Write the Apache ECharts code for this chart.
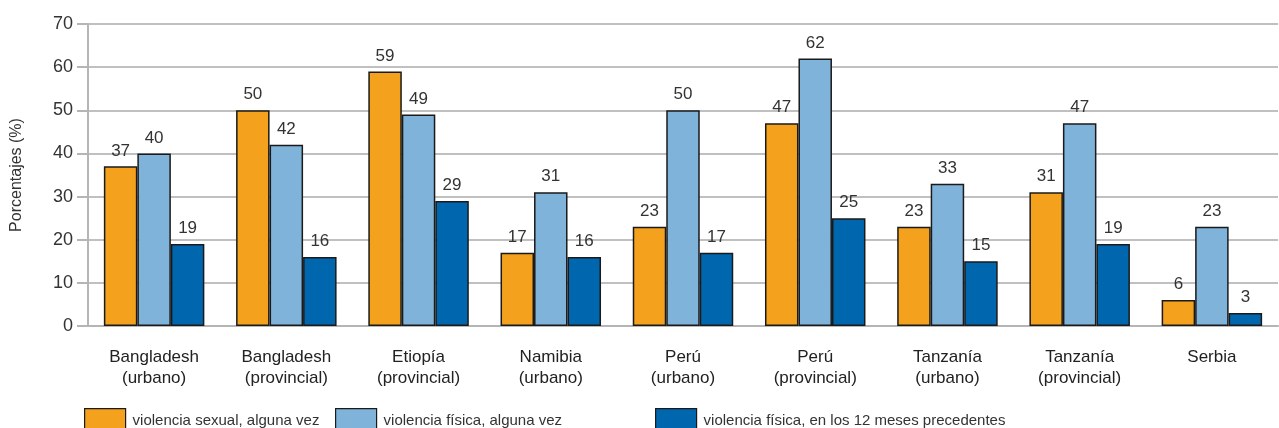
<!DOCTYPE html>
<html><head><meta charset="utf-8">
<script src="https://cdn.jsdelivr.net/npm/echarts@6/dist/echarts.min.js"></script>
<style>html,body{margin:0;padding:0;background:#fff}#c{width:1279px;height:428px}</style>
</head><body><div id="c"></div>
<script>
const categories = ["Bangladesh\n(urbano)","Bangladesh\n(provincial)","Etiopía\n(provincial)","Namibia\n(urbano)","Perú\n(urbano)","Perú\n(provincial)","Tanzanía\n(urbano)","Tanzanía\n(provincial)","Serbia"];
const seriesNames = ["violencia sexual, alguna vez","violencia física, alguna vez","violencia física, en los 12 meses precedentes"];
const sexualAlgunaVez = [37,50,59,17,23,47,23,31,6];
const fisicaAlgunaVez = [40,42,49,31,50,62,33,47,23];
const fisica12Meses = [19,16,29,16,17,25,15,19,3];
const yTicks = {min:0,max:70,interval:10};
const colors = ["#F4A11D","#80B3D9","#0066AE"];
const font = "Liberation Sans, Arial, sans-serif";
const chart = echarts.init(document.getElementById('c'));
const mk = (i,data)=>({name:seriesNames[i],type:'bar',data:data,barGap:'0%',barCategoryGap:'24%',
  itemStyle:{color:colors[i],borderColor:'#1a1a1a',borderWidth:1.5},
  label:{show:true,position:'top',distance:7,color:'#333',fontSize:17,fontFamily:font}});
const lg = (name,left)=>({data:[name],left:left,top:403,itemWidth:41,itemHeight:24,itemGap:0,
  icon:'rect',itemStyle:{borderColor:'#1a1a1a',borderWidth:1.2},
  textStyle:{color:'#333',fontSize:15,fontFamily:font,padding:[0,0,0,2]},selectedMode:false});
chart.setOption({
  animation:false,
  textStyle:{fontFamily:font},
  grid:{left:88,right:1,top:24,bottom:102,containLabel:false},
  legend:[lg(seriesNames[0],79),lg(seriesNames[1],330),lg(seriesNames[2],650)],
  xAxis:{type:'category',data:categories,
    axisLine:{show:true,lineStyle:{color:'#b5b5b5',width:2}},
    axisTick:{show:false},
    axisLabel:{color:'#222',fontSize:17,lineHeight:21,margin:21,fontFamily:font,interval:0}},
  yAxis:{type:'value',min:yTicks.min,max:yTicks.max,interval:yTicks.interval,
    name:'Porcentajes (%)',nameLocation:'middle',nameGap:63,nameRotate:90,
    nameTextStyle:{color:'#333',fontSize:16,fontFamily:font},
    axisLine:{show:true,lineStyle:{color:'#b5b5b5',width:2}},
    axisTick:{show:true,length:11,lineStyle:{color:'#b5b5b5',width:2}},
    axisLabel:{color:'#333',fontSize:18,margin:15,fontFamily:font},
    splitLine:{show:true,lineStyle:{color:'#c0c0c0',width:2}}},
  series:[mk(0,sexualAlgunaVez),mk(1,fisicaAlgunaVez),mk(2,fisica12Meses)]
});
</script></body></html>
